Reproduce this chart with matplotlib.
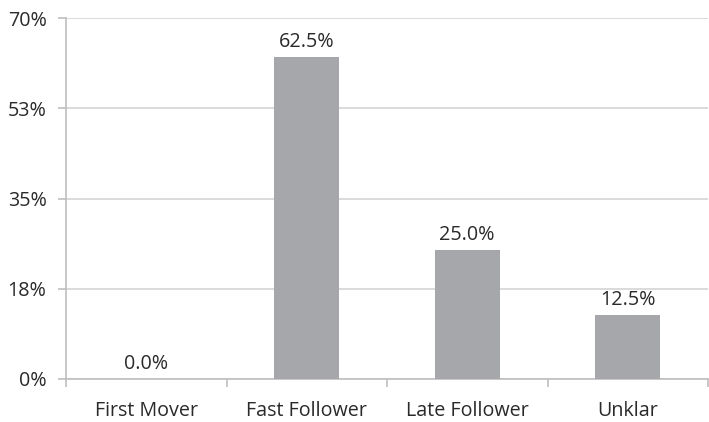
import matplotlib
matplotlib.use("Agg")
import matplotlib.pyplot as plt
from matplotlib.ticker import FixedLocator, FixedFormatter

categories = ["First Mover", "Fast Follower", "Late Follower", "Unklar"]
shares = [0.0, 62.5, 25.0, 12.5]
y_ticks = [0, 17.5, 35, 52.5, 70]
y_tick_labels = ["0%", "18%", "35%", "53%", "70%"]

plt.rcParams["font.family"] = ["Open Sans", "DejaVu Sans"]
text_color = "#2a2a2a"
grid_color = "#d4d4d4"
axis_color = "#bfbfbf"
bar_color = "#a6a7ab"
fs = 14.2

W, H = 709, 422
fig = plt.figure(figsize=(W / 100, H / 100), dpi=100)
ax = fig.add_axes([66 / W, 43 / H, (708 - 66) / W, (379 - 18) / H])

x = list(range(len(categories)))
bars = ax.bar(x, shares, width=0.405, color=bar_color, zorder=3)
for xi, v in zip(x, shares):
    ax.annotate(f"{v:.1f}%", (xi, v), xytext=(0, 3.5), textcoords="offset points",
                ha="center", va="bottom", fontsize=fs, color=text_color)

ax.set_xlim(-0.5, len(categories) - 0.5)
ax.set_ylim(0, 70)
ax.yaxis.set_major_locator(FixedLocator(y_ticks))
ax.yaxis.set_major_formatter(FixedFormatter(y_tick_labels))
ax.set_xticks(x)
ax.set_xticklabels(categories)
ax.xaxis.set_minor_locator(FixedLocator([i - 0.5 for i in range(len(categories) + 1)]))

ax.grid(axis="y", color=grid_color, linewidth=1.2, zorder=0)
for s in ["top", "right"]:
    ax.spines[s].set_visible(False)
ax.spines["left"].set_color(axis_color)
ax.spines["bottom"].set_color(axis_color)
ax.spines["left"].set_linewidth(1.2)
ax.spines["bottom"].set_linewidth(1.2)

ax.tick_params(axis="y", length=6, width=1.2, color=axis_color, labelsize=fs,
               labelcolor=text_color, pad=8)
ax.tick_params(axis="x", which="major", length=0, labelsize=fs,
               labelcolor=text_color, pad=16)
ax.tick_params(axis="x", which="minor", length=6, width=1.2, color=axis_color)

fig.savefig("out.png", dpi=100)
